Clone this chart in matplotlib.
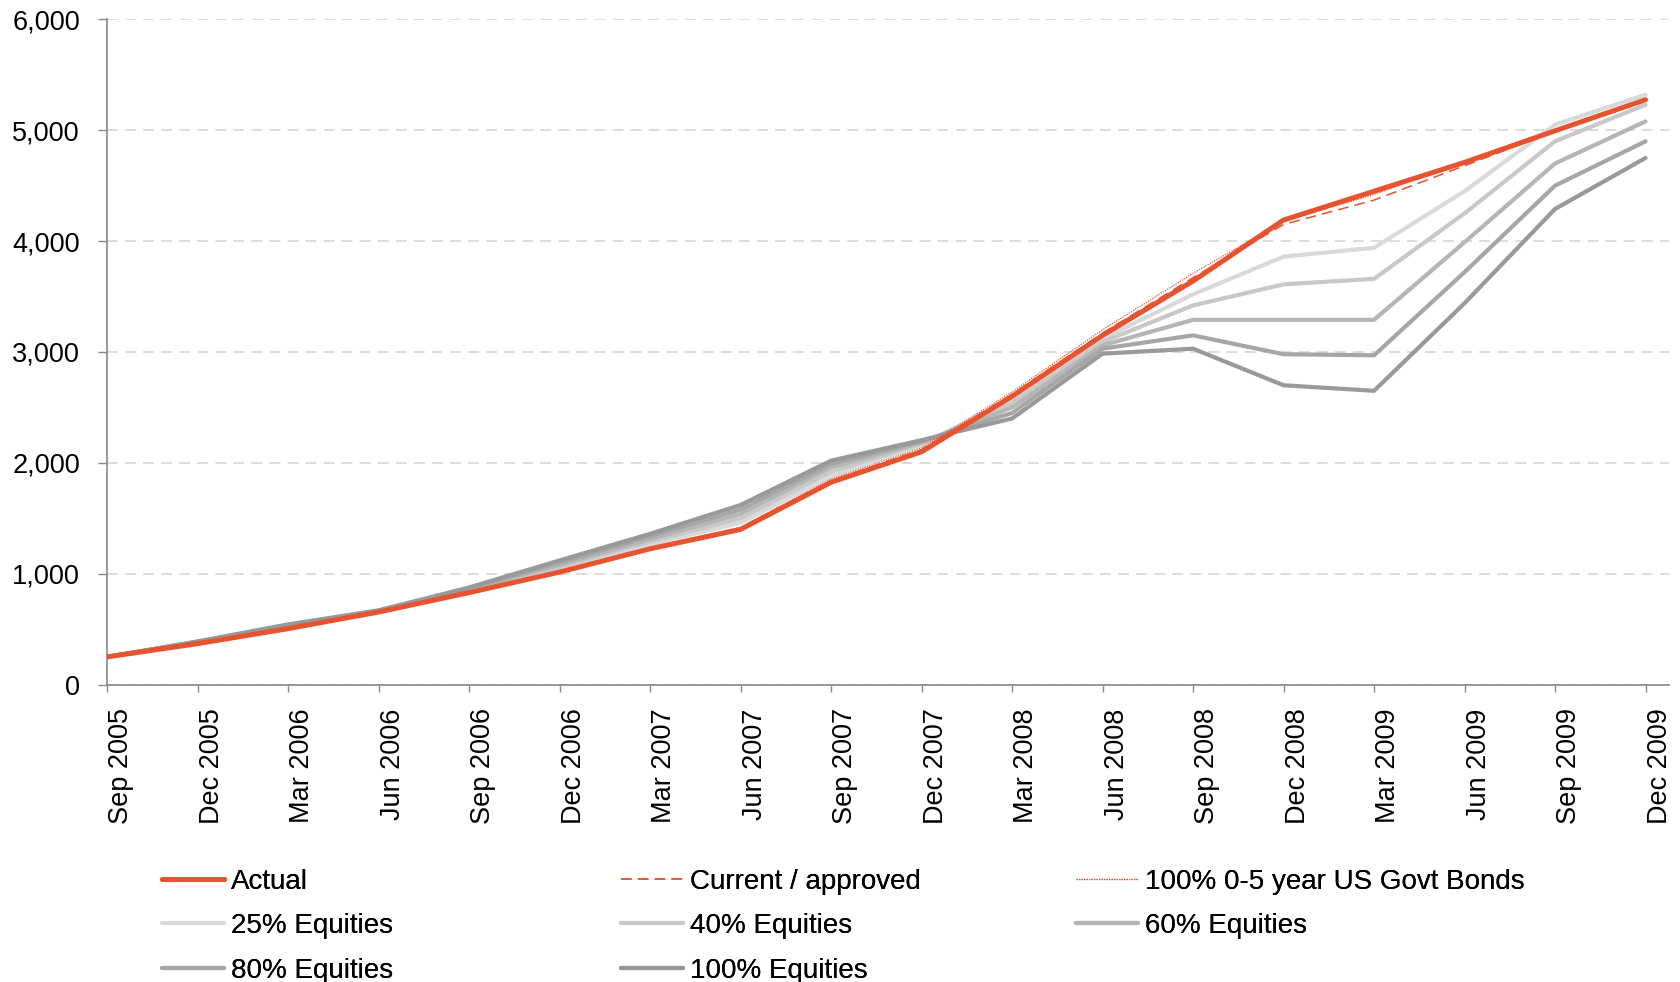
import matplotlib
matplotlib.use("Agg")
import matplotlib.pyplot as plt
import matplotlib.transforms as mtransforms
from matplotlib.ticker import FuncFormatter

plt.rcParams['font.family'] = ['Liberation Sans', 'DejaVu Sans']

quarters = ["Sep 2005", "Dec 2005", "Mar 2006", "Jun 2006", "Sep 2006", "Dec 2006",
            "Mar 2007", "Jun 2007", "Sep 2007", "Dec 2007", "Mar 2008", "Jun 2008",
            "Sep 2008", "Dec 2008", "Mar 2009", "Jun 2009", "Sep 2009", "Dec 2009"]

actual =    [250, 370, 505, 655, 830, 1015, 1225, 1400, 1825, 2100, 2600, 3150, 3640, 4190, 4450, 4710, 4995, 5275]
current =   [250, 372, 508, 658, 835, 1020, 1232, 1410, 1840, 2120, 2620, 3170, 3670, 4150, 4370, 4680, 4990, 5270]
bonds =     [250, 374, 510, 660, 840, 1028, 1240, 1420, 1855, 2135, 2640, 3200, 3710, 4180, 4420, 4720, 5000, 5275]
eq25 =      [250, 378, 520, 662, 850, 1045, 1265, 1460, 1880, 2160, 2580, 3120, 3520, 3860, 3940, 4450, 5050, 5320]
eq40 =      [250, 381, 527, 664, 858, 1062, 1290, 1500, 1920, 2175, 2540, 3090, 3420, 3610, 3660, 4250, 4900, 5230]
eq60 =      [250, 384, 533, 666, 864, 1080, 1312, 1540, 1960, 2185, 2500, 3060, 3290, 3290, 3290, 3990, 4700, 5080]
eq80 =      [250, 387, 538, 668, 870, 1100, 1338, 1580, 1990, 2195, 2450, 3030, 3150, 2980, 2970, 3720, 4500, 4900]
eq100 =     [250, 390, 543, 670, 876, 1120, 1360, 1620, 2020, 2205, 2400, 2985, 3030, 2700, 2650, 3440, 4290, 4750]

yticks = [0, 1000, 2000, 3000, 4000, 5000, 6000]

RED = '#E8532F'
greys = ['#D9D9D9', '#C8C8C8', '#B5B5B5', '#A6A6A6', '#999999']
grey_series = [eq25, eq40, eq60, eq80, eq100]
grey_labels = ["25% Equities", "40% Equities", "60% Equities", "80% Equities", "100% Equities"]

fig = plt.figure(figsize=(16.8, 9.82), dpi=100)
ax = fig.add_axes([0.0637, 0.3028, 0.9298, 0.6775])

x = list(range(len(quarters)))
ax.set_axisbelow(True)
ax.yaxis.grid(True, color='#D9D9D9', linewidth=1.3, linestyle=(0, (6, 4)))

handles = {}
for s, c, lab in zip(grey_series, greys, grey_labels):
    handles[lab], = ax.plot(x, s, color=c, linewidth=3.0, solid_joinstyle='round',
                            solid_capstyle='round', label=lab)
handles['Actual'], = ax.plot(x, actual, color=RED, linewidth=3.6, label='Actual', zorder=5,
                             solid_joinstyle='round', solid_capstyle='round')
handles['Current / approved'], = ax.plot(x, current, color=RED, linewidth=1.1, linestyle=(0, (7, 4)),
                                         label='Current / approved', zorder=6)
handles['100% 0-5 year US Govt Bonds'], = ax.plot(x, bonds, color=RED, linewidth=0.9, linestyle=(0, (1, 1)),
                                                  label='100% 0-5 year US Govt Bonds', zorder=7)

ax.set_xlim(0, 17.26)
ax.set_ylim(0, 6000)
ax.set_yticks(yticks)
ax.yaxis.set_major_formatter(FuncFormatter(lambda v, p: f"{int(v):,}"))
ax.set_xticks(x)
ax.set_xticklabels(quarters, rotation=90)
ax.tick_params(axis='y', labelsize=19.5, length=6.5, width=1, color='#888888', pad=13)
ax.tick_params(axis='x', labelsize=19.5, length=5, width=1, color='#888888', pad=12)
offset = mtransforms.ScaledTranslation(0.14, 0, fig.dpi_scale_trans)
for lbl in ax.get_xticklabels():
    lbl.set_transform(lbl.get_transform() + offset)
for side in ['top', 'right']:
    ax.spines[side].set_visible(False)
for side in ['left', 'bottom']:
    ax.spines[side].set_color('#888888')
    ax.spines[side].set_linewidth(1.2)

cols = [
    (0.0967, ['Actual', '25% Equities', '80% Equities']),
    (0.3696, ['Current / approved', '40% Equities', '100% Equities']),
    (0.6405, ['100% 0-5 year US Govt Bonds', '60% Equities']),
]
for xpos, labs in cols:
    leg = fig.legend([handles[l] for l in labs], labs, loc='upper left',
                     bbox_to_anchor=(xpos, 0.1155), frameon=False, fontsize=20,
                     handlelength=2.23, handletextpad=0.25, labelspacing=0.67,
                     borderpad=0, borderaxespad=0)
    fig.add_artist(leg)

fig.savefig('out.png', dpi=100)
